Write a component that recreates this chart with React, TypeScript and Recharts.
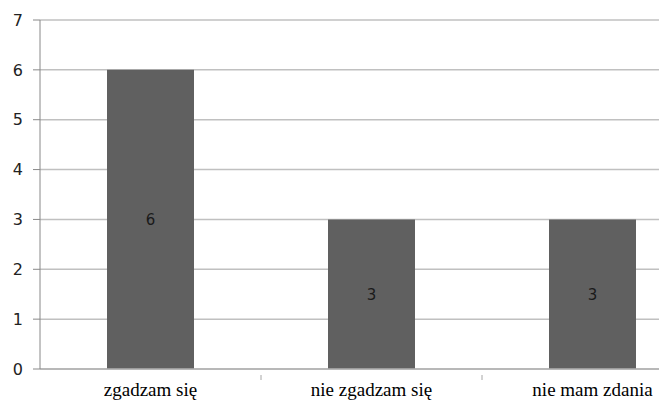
import React from 'react';
import { BarChart, Bar, XAxis, YAxis, CartesianGrid, LabelList } from 'recharts';

const categories = ['zgadzam się', 'nie zgadzam się', 'nie mam zdania'];
const counts = [6, 3, 3];
const yTicks = [0, 1, 2, 3, 4, 5, 6, 7];

const data = categories.map((name, i) => ({ name, count: counts[i] }));

const CHART_W = 703;
const CHART_H = 400;
const Y_AXIS_W = 40;
const BAND = (CHART_W - Y_AXIS_W) / categories.length;

// category label centred under the bar, small tick at the left edge of each band
const CategoryTick = (props: any) => {
  const { x, y, payload, index } = props;
  return (
    <g>
      {index > 0 && (
        <line x1={x - BAND / 2} x2={x - BAND / 2} y1={y - 2} y2={y + 3} stroke="#a6a6a6" strokeWidth={1} />
      )}
      <text
        x={x}
        y={y + 19}
        textAnchor="middle"
        fill="#000"
        fontFamily="'Liberation Serif', serif"
        fontSize={19}
      >
        {payload.value}
      </text>
    </g>
  );
};

const App: React.FC = () => {
  return (
    <div style={{ position: 'absolute', left: 0, top: 0, width: 659, height: 400, overflow: 'hidden', background: '#fff' }}>
      <BarChart
        width={CHART_W}
        height={CHART_H}
        data={data}
        margin={{ top: 20, right: 0, left: 0, bottom: 1 }}
      >
        <CartesianGrid vertical={false} stroke="#c0c0c0" strokeWidth={1.5} />
        <XAxis
          dataKey="name"
          height={30}
          axisLine={{ stroke: '#b0b0b0', strokeWidth: 1.5 }}
          tickLine={false}
          tick={<CategoryTick />}
          interval={0}
        />
        <YAxis
          width={Y_AXIS_W}
          domain={[0, 7]}
          ticks={yTicks}
          axisLine={{ stroke: '#888' }}
          tickLine={{ stroke: '#888' }}
          tickSize={7}
          tickMargin={10}
          tick={{ fill: '#222', fontSize: 16, fontFamily: "'DejaVu Sans', sans-serif" }}
        />
        <Bar dataKey="count" fill="#606060" barSize={87} isAnimationActive={false}>
          <LabelList
            dataKey="count"
            position="center"
            fill="#1a1a1a"
            fontSize={15}
            fontFamily="'DejaVu Sans', sans-serif"
          />
        </Bar>
      </BarChart>
    </div>
  );
};

export default App;
